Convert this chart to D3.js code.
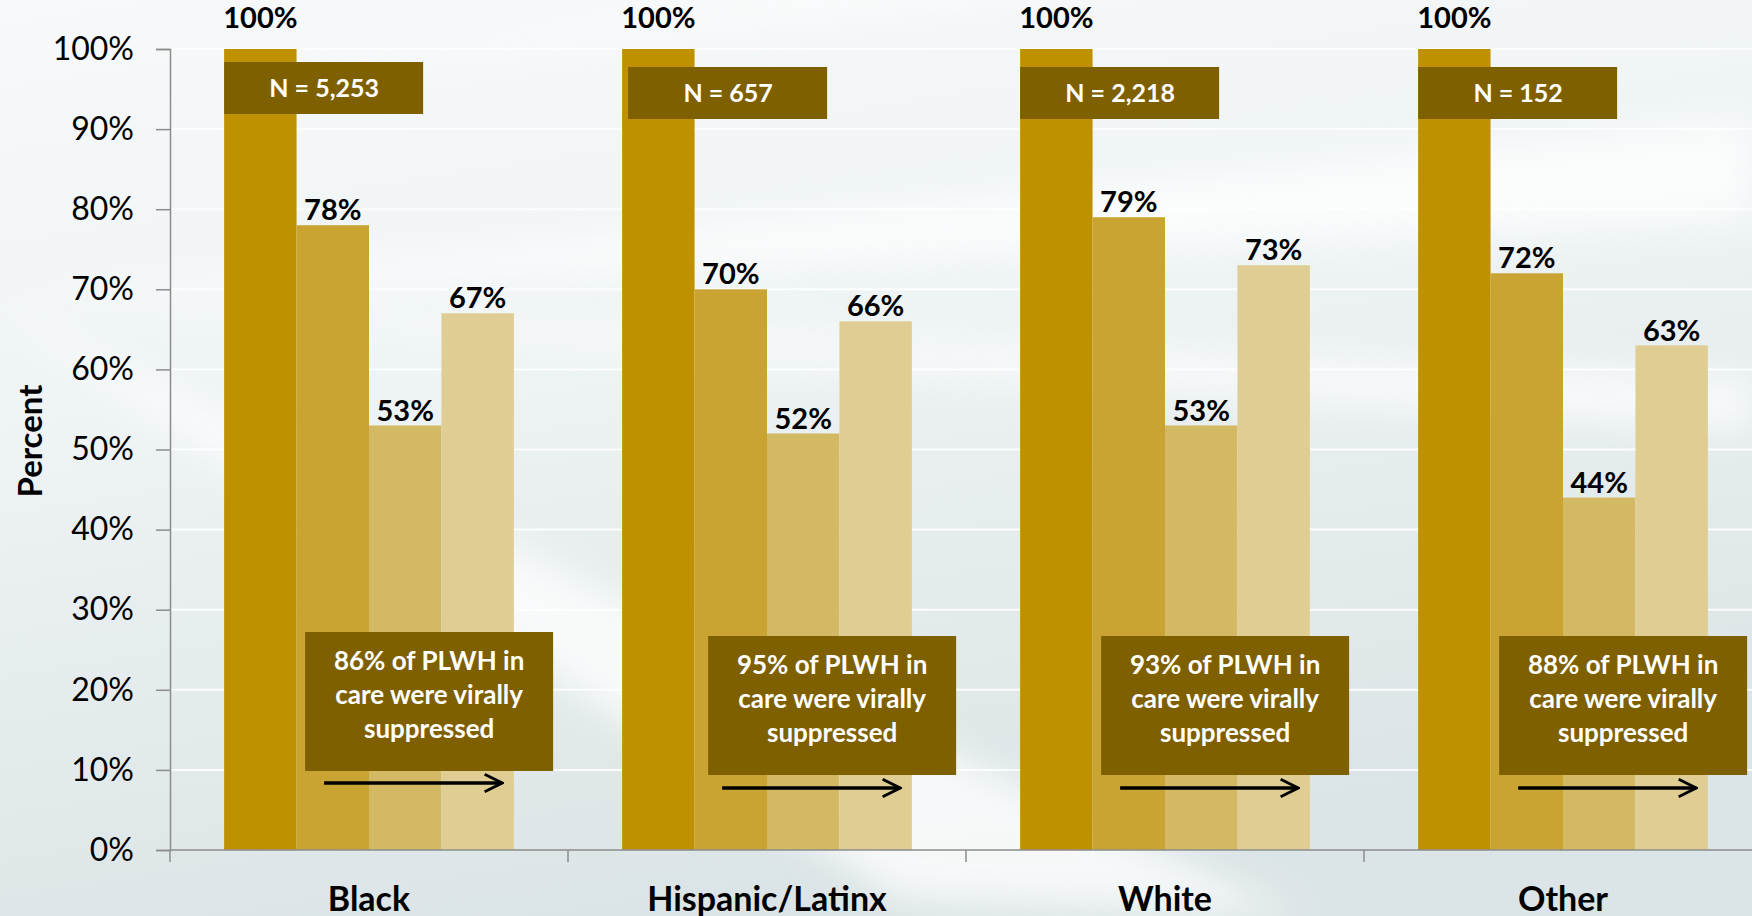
<!DOCTYPE html>
<html>
<head>
<meta charset="utf-8">
<script src="https://cdn.jsdelivr.net/npm/d3@7"></script>
<style>
  html, body { margin: 0; padding: 0; overflow: hidden; }
  body { width: 1752px; height: 916px; }
  text { font-family: Lato, "Open Sans", sans-serif; }
</style>
</head>
<body>
<div id="chart"></div>
<script>
// 数据
const categories = ["Black", "Hispanic/Latinx", "White", "Other"];
const seriesNames = ["s1", "s2", "s3", "s4"];
const s1Values = [100, 100, 100, 100];
const s2Values = [78, 70, 79, 72];
const s3Values = [53, 52, 53, 44];
const s4Values = [67, 66, 73, 63];
const nLabels = ["N = 5,253", "N = 657", "N = 2,218", "N = 152"];
const suppressedPct = [86, 95, 93, 88];
const yTicks = [0, 10, 20, 30, 40, 50, 60, 70, 80, 90, 100];

const barColors = ["#bf9000", "#c9a433", "#d3b963", "#dfcd93"];
const boxColor = "#7f6000";

const width = 1752, height = 916;
const plotLeft = 170, plotTop = 49, plotBottom = 850;
const step = 398;

const svg = d3.select("#chart").append("svg")
    .attr("width", width)
    .attr("height", height);

// 背景
const defs = svg.append("defs");
const bg = defs.append("linearGradient")
    .attr("id", "bg").attr("x1", 0).attr("y1", 0).attr("x2", 0.3).attr("y2", 1);
bg.append("stop").attr("offset", "0%").attr("stop-color", "#f7f9fa");
bg.append("stop").attr("offset", "45%").attr("stop-color", "#eef3f4");
bg.append("stop").attr("offset", "100%").attr("stop-color", "#dbe4e6");
defs.append("filter").attr("id", "blur")
    .append("feGaussianBlur").attr("stdDeviation", 18);

svg.append("rect").attr("width", width).attr("height", height).attr("fill", "url(#bg)");

// 光线效果
const rays = svg.append("g").attr("filter", "url(#blur)").attr("opacity", 0.75);
[[-20, 300, 1752, 120, 1752, 220], [-20, 300, 1752, 380, 1752, 430],
 [200, 80, 1000, -40, 1300, -40], [-20, 300, 900, 900, 1300, 916]].forEach(p => {
    rays.append("path")
        .attr("d", `M${p[0]},${p[1]} L${p[2]},${p[3]} L${p[4]},${p[5]} Z`)
        .attr("fill", "#ffffff");
});

// 比例尺
const y = d3.scaleLinear().domain([0, 100]).range([plotBottom, plotTop]);
const x0 = d3.scaleBand()
    .domain(categories)
    .range([plotLeft, plotLeft + step * categories.length])
    .paddingInner(0.272)
    .paddingOuter(0.136);
const x1 = d3.scaleBand().domain(seriesNames).range([0, x0.bandwidth()]);

// 网格线
svg.append("g").selectAll("line")
    .data(yTicks.filter(d => d > 0))
    .join("line")
    .attr("x1", plotLeft).attr("x2", width)
    .attr("y1", d => y(d)).attr("y2", d => y(d))
    .attr("stroke", "#ffffff").attr("stroke-width", 2).attr("opacity", 0.85);

// Y轴
const yAxis = svg.append("g")
    .attr("transform", `translate(${plotLeft},0)`)
    .call(d3.axisLeft(y).tickValues(yTicks).tickFormat(d => d + "%").tickSize(14).tickPadding(22));
yAxis.select(".domain").attr("stroke", "#8c8c8c").attr("stroke-width", 1.5);
yAxis.selectAll(".tick line").attr("stroke", "#8c8c8c").attr("stroke-width", 1.5);
yAxis.selectAll(".tick text")
    .attr("font-size", 32).attr("fill", "#000")
    .style("font-family", "Lato, sans-serif");

svg.append("text")
    .attr("transform", "translate(30,441) rotate(-90)")
    .attr("text-anchor", "middle")
    .attr("dy", "0.35em")
    .attr("font-size", 33)
    .attr("font-weight", "bold")
    .text("Percent");

// 柱子
const rows = categories.map((c, i) => ({
    cat: c,
    vals: [s1Values[i], s2Values[i], s3Values[i], s4Values[i]]
}));

const groups = svg.append("g").selectAll("g")
    .data(rows)
    .join("g")
    .attr("transform", d => `translate(${x0(d.cat)},0)`);

groups.selectAll("rect")
    .data(d => d.vals.map((v, k) => ({ key: seriesNames[k], v: v, k: k })))
    .join("rect")
    .attr("x", d => x1(d.key))
    .attr("y", d => y(d.v))
    .attr("width", x1.bandwidth())
    .attr("height", d => plotBottom - y(d.v))
    .attr("fill", d => barColors[d.k]);

groups.selectAll("text.val")
    .data(d => d.vals.map((v, k) => ({ key: seriesNames[k], v: v, k: k })))
    .join("text")
    .attr("class", "val")
    .attr("x", d => x1(d.key) + x1.bandwidth() / 2)
    .attr("y", d => y(d.v) - (d.k === 0 ? 31 : 15))
    .attr("dy", "0.35em")
    .attr("text-anchor", "middle")
    .attr("font-size", 29)
    .attr("font-weight", "bold")
    .text(d => d.v + "%");

// X轴
const xAxis = svg.append("g");
xAxis.append("line")
    .attr("x1", plotLeft).attr("x2", width)
    .attr("y1", plotBottom).attr("y2", plotBottom)
    .attr("stroke", "#8c8c8c").attr("stroke-width", 1.5);
xAxis.selectAll("line.tk")
    .data(categories)
    .join("line")
    .attr("class", "tk")
    .attr("x1", d => x0(d) - x0.step() * 0.136).attr("x2", d => x0(d) - x0.step() * 0.136)
    .attr("y1", plotBottom).attr("y2", plotBottom + 12)
    .attr("stroke", "#8c8c8c").attr("stroke-width", 1.5);
xAxis.selectAll("text")
    .data(categories)
    .join("text")
    .attr("x", d => x0(d) + x0.bandwidth() / 2)
    .attr("y", 899)
    .attr("dy", "0.35em")
    .attr("text-anchor", "middle")
    .attr("font-size", 34)
    .attr("font-weight", "bold")
    .text(d => d);

// N 标签框
const nBox = groups.append("g").attr("transform", (d, i) => `translate(${i === 1 ? 6 : 0},${i === 0 ? 62 : 67})`);
nBox.append("rect")
    .attr("width", 199).attr("height", 52)
    .attr("fill", boxColor);
nBox.append("text")
    .attr("x", 100).attr("y", 26).attr("dy", "0.35em")
    .attr("text-anchor", "middle")
    .attr("font-size", 25).attr("font-weight", "bold")
    .attr("fill", "#fff")
    .text((d, i) => nLabels[i]);

// 病毒抑制注释框
const note = groups.append("g").attr("transform", (d, i) => `translate(${i === 1 ? 86 : 81},${i === 0 ? 632 : 636})`);
note.append("rect")
    .attr("width", 248).attr("height", 139)
    .attr("fill", boxColor);
const noteText = note.append("text")
    .attr("text-anchor", "middle")
    .attr("font-size", 26).attr("font-weight", "bold")
    .attr("fill", "#fff");
noteText.each(function(d, i) {
    const lines = [suppressedPct[i] + "% of PLWH in", "care were virally", "suppressed"];
    d3.select(this).selectAll("tspan")
        .data(lines)
        .join("tspan")
        .attr("x", 124)
        .attr("y", (l, j) => 29 + j * 34)
        .attr("dy", "0.35em")
        .text(l => l);
});

// 箭头
defs.append("marker")
    .attr("id", "arrow")
    .attr("viewBox", "0 0 12 12")
    .attr("refX", 11).attr("refY", 6)
    .attr("markerWidth", 6).attr("markerHeight", 6)
    .attr("markerUnits", "strokeWidth")
    .attr("orient", "auto")
    .append("path")
    .attr("d", "M1,1 L11,6 L1,11")
    .attr("fill", "none")
    .attr("stroke", "#000")
    .attr("stroke-width", 1.6);

groups.append("line")
    .attr("x1", 100).attr("x2", 278)
    .attr("y1", (d, i) => i === 0 ? 783 : 788).attr("y2", (d, i) => i === 0 ? 783 : 788)
    .attr("stroke", "#000").attr("stroke-width", 3.5)
    .attr("marker-end", "url(#arrow)");
</script>
</body>
</html>
